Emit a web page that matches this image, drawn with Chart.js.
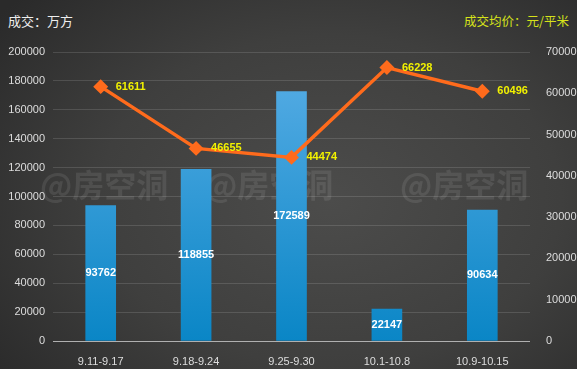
<!DOCTYPE html>
<html>
<head>
<meta charset="utf-8">
<script src="https://cdn.jsdelivr.net/npm/chart.js@4/dist/chart.umd.min.js"></script>
<style>
  html,body{margin:0;padding:0;}
  .wrap{position:relative;width:577px;height:369px;overflow:hidden;
    background:radial-gradient(ellipse 420px 300px at 330px 200px,#4c4c4b 0%,#3f3f3e 55%,#2a2a2a 100%);}
  .t{position:absolute;top:13px;font-family:"Noto Sans CJK SC",sans-serif;font-size:13px;line-height:16px;}
  .tl{left:8px;color:#eeeeee;}
  .tr{right:8px;color:#d6e21a;font-size:12.5px;}
  canvas{position:absolute;left:0;top:0;}
</style>
</head>
<body>
<div class="wrap">
  <div class="t tl">成交：万方</div>
  <div class="t tr">成交均价：元/平米</div>
  <canvas id="c" width="577" height="369"></canvas>
</div>
<script>
const categories=['9.11-9.17','9.18-9.24','9.25-9.30','10.1-10.8','10.9-10.15'];
const volumes=[93762,118855,172589,22147,90634];
const prices=[61611,46655,44474,66228,60496];
const watermark='@房空洞';

const ctx=document.getElementById('c').getContext('2d');

const labelsPlugin={
  id:'labels',
  beforeDatasetsDraw(chart){
    const c=chart.ctx;
    c.save();
    c.font='bold 32px "Noto Sans CJK SC"';
    c.fillStyle='rgba(255,255,255,0.09)';
    c.textBaseline='middle';
    [40,205,400].forEach(x=>c.fillText(watermark,x,185));
    c.restore();
  },
  afterDatasetsDraw(chart){
    const c=chart.ctx;
    c.save();
    c.font='bold 11px "Liberation Sans"';
    c.textBaseline='middle';
    chart.getDatasetMeta(1).data.forEach((el,i)=>{
      c.fillStyle='#ffffff';
      c.textAlign='center';
      c.fillText(volumes[i],el.x,(el.y+el.base)/2);
    });
    chart.getDatasetMeta(0).data.forEach((el,i)=>{
      c.fillStyle='#f2f200';
      c.textAlign='left';
      c.fillText(prices[i],el.x+15,el.y);
    });
    c.restore();
  }
};

const plain=v=>String(v);

new Chart(ctx,{
  type:'bar',
  data:{
    labels:categories,
    datasets:[
      {
        type:'line',
        data:prices,
        yAxisID:'y1',
        order:0,
        borderColor:'#ff6b1c',
        borderWidth:3.5,
        pointStyle:'rectRot',
        pointRadius:5,
        pointBackgroundColor:'#ff6b1c',
        pointBorderColor:'#ff6b1c',
        tension:0
      },
      {
        type:'bar',
        data:volumes,
        yAxisID:'y',
        order:1,
        barThickness:30,
        backgroundColor(context){
          const a=context.chart.chartArea;
          if(!a) return '#2a90d0';
          const g=context.chart.ctx.createLinearGradient(0,a.top,0,a.bottom);
          g.addColorStop(0,'#5aaee6');
          g.addColorStop(1,'#0a86c6');
          return g;
        }
      }
    ]
  },
  options:{
    responsive:false,
    animation:false,
    layout:{padding:{top:52,left:0,right:0,bottom:0}},
    plugins:{legend:{display:false},tooltip:{enabled:false}},
    scales:{
      x:{
        grid:{display:false},
        border:{display:false},
        ticks:{color:'#dddddd',font:{family:'Liberation Sans',size:11},padding:6},
        afterFit(s){s.height=28;}
      },
      y:{
        min:0,max:200000,
        ticks:{stepSize:20000,color:'#dddddd',font:{family:'Liberation Sans',size:11},padding:8,callback:plain},
        grid:{
          color(c){return c.tick.value===0?'#b0b0b0':'rgba(255,255,255,0.13)';},
          drawTicks:false
        },
        border:{display:false},
        afterFit(s){s.width=53;}
      },
      y1:{
        position:'right',
        min:0,max:70000,
        ticks:{stepSize:10000,color:'#dddddd',font:{family:'Liberation Sans',size:11},padding:8,callback:plain},
        grid:{display:false},
        border:{display:false},
        afterFit(s){s.width=47;}
      }
    }
  },
  plugins:[labelsPlugin]
});
</script>
</body>
</html>
